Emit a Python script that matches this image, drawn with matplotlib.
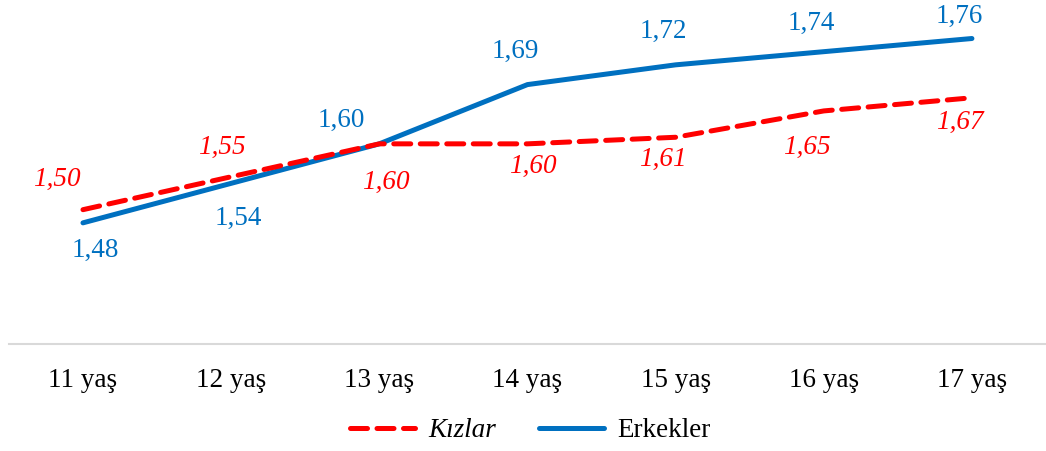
import matplotlib.pyplot as plt

plt.rcParams["font.family"] = ["Liberation Serif", "DejaVu Serif"]

ages = ["11 yaş", "12 yaş", "13 yaş", "14 yaş", "15 yaş", "16 yaş", "17 yaş"]
kizlar = [1.50, 1.55, 1.60, 1.60, 1.61, 1.65, 1.67]
erkekler = [1.48, 1.54, 1.60, 1.69, 1.72, 1.74, 1.76]

RED = "#FF0000"
BLUE = "#0070C0"
FS = 19.5

# label offsets in points (dx, dy) from each marker position
red_offsets = [(-19, 22), (-7, 21), (5, -28), (4, -16), (-9, -16), (-12, -26), (-9, -18)]
blue_offsets = [(9, -20), (5, -25), (-27, 17), (-9, 24), (-9, 24), (-9, 20), (-9, 16)]


def fmt(v):
    return f"{v:.2f}".replace(".", ",")


fig = plt.figure(figsize=(10.46, 4.51), dpi=100)
ax = fig.add_axes([0.0085, 0.2373, 0.9915, 0.7357])

x = range(len(ages))
ax.plot(x, kizlar, color=RED, lw=3.6, ls=(0, (3.4, 1.9)), solid_capstyle="round",
        dash_capstyle="round", label="Kızlar", zorder=3)
ax.plot(x, erkekler, color=BLUE, lw=3.6, solid_capstyle="round", label="Erkekler", zorder=2)

for i, v in enumerate(kizlar):
    ax.annotate(fmt(v), (i, v), xytext=red_offsets[i], textcoords="offset points",
                ha="center", va="center", color=RED, fontsize=FS, style="italic")
for i, v in enumerate(erkekler):
    ax.annotate(fmt(v), (i, v), xytext=blue_offsets[i], textcoords="offset points",
                ha="center", va="center", color=BLUE, fontsize=FS)

ax.set_xlim(-0.5, len(ages) - 0.5)
ax.set_ylim(1.296, 1.8)
ax.set_xticks(list(x))
ax.set_xticklabels(ages, fontsize=FS)
ax.tick_params(axis="x", length=0, pad=17)
ax.set_yticks([])
for side in ["top", "right", "left"]:
    ax.spines[side].set_visible(False)
ax.spines["bottom"].set_color("#d9d9d9")
ax.spines["bottom"].set_linewidth(1.5)

leg = fig.legend(loc="center", bbox_to_anchor=(0.507, 0.045), ncol=2, frameon=False,
                 fontsize=FS, handlelength=2.4, columnspacing=1.6, handletextpad=0.5)
leg.get_texts()[0].set_style("italic")

fig.savefig("out.png", dpi=100)
